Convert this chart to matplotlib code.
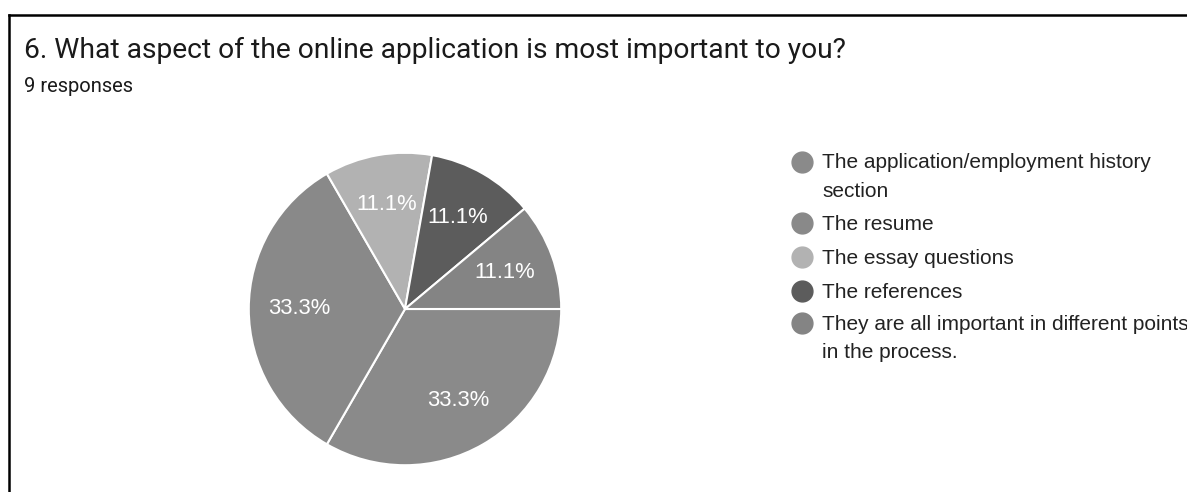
import matplotlib
matplotlib.use("Agg")
import matplotlib.pyplot as plt
from matplotlib.lines import Line2D

categories = [
    "The application/employment history\nsection",
    "The resume",
    "The essay questions",
    "The references",
    "They are all important in different points\nin the process.",
]
counts = [3, 3, 1, 1, 1]
colors = ["#8a8a8a", "#898989", "#b2b2b2", "#5c5c5c", "#848484"]
title = "6. What aspect of the online application is most important to you?"
subtitle = "9 responses"

W, H = 1187, 492
fig = plt.figure(figsize=(W / 100, H / 100), dpi=100)
fig.patch.set_facecolor("white")

def fx(px):
    return px / W

def fy(py):
    return 1 - py / H

# frame border (top and left)
fig.add_artist(Line2D([fx(9.5), fx(W + 5)], [fy(15), fy(15)], color="black", lw=1.8, transform=fig.transFigure))
fig.add_artist(Line2D([fx(9.5), fx(9.5)], [fy(15), fy(H + 5)], color="black", lw=1.8, transform=fig.transFigure))

fig.text(fx(24), fy(50), title, family="Roboto", fontsize=20.3, color="#1a1a1a", va="center", ha="left")
fig.text(fx(24), fy(86), subtitle, family="Roboto", fontsize=14.5, color="#1a1a1a", va="center", ha="left")

cx, cy, r = 405, 309, 157
ax = fig.add_axes([fx(cx - r), fy(cy + r), (2 * r) / W, (2 * r) / H])
wedges, texts, autotexts = ax.pie(
    counts,
    colors=colors,
    startangle=0,
    counterclock=False,
    autopct="%1.1f%%",
    pctdistance=0.68,
    wedgeprops=dict(edgecolor="white", linewidth=1.5),
    textprops=dict(color="white", fontsize=15.8, family="Liberation Sans"),
)
ax.set_xlim(-1.005, 1.005)
ax.set_ylim(-1.005, 1.005)
ax.set_aspect("equal")
ax.axis("off")

# legend
rows = [162, 223, 257, 291, 323]
for lab, col, ry in zip(categories, colors, rows):
    fig.add_artist(Line2D([fx(802)], [fy(ry)], marker="o", markersize=15, color=col,
                          linestyle="none", transform=fig.transFigure))
    for k, line in enumerate(lab.split("\n")):
        fig.text(fx(822), fy(ry + 1 + 28.5 * k), line, family="Liberation Sans", fontsize=15,
                 color="#222222", va="center", ha="left")

fig.savefig("out.png", dpi=100, facecolor="white")
